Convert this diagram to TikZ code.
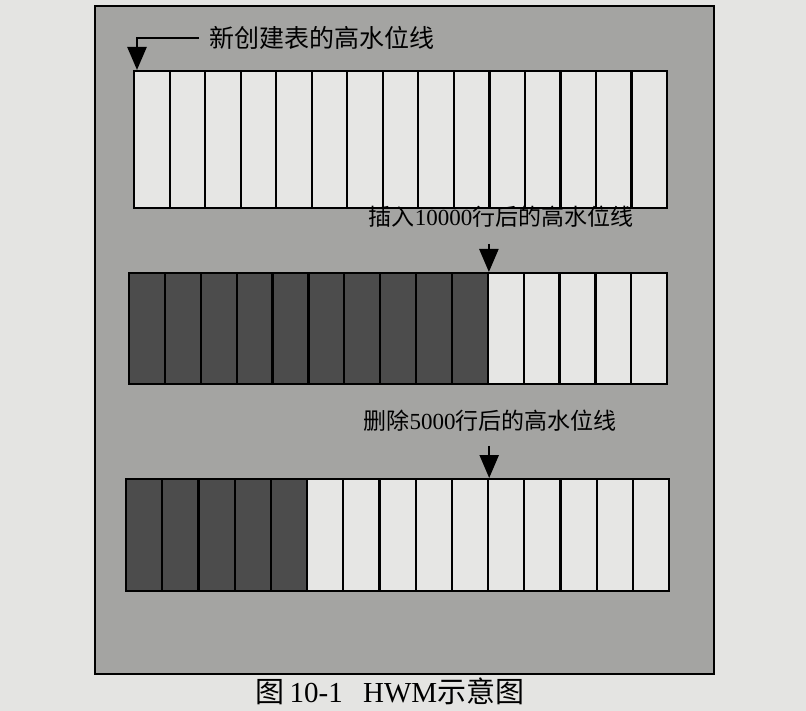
\documentclass[tikz,border=0pt]{standalone}
\usepackage{fontspec}
\setmainfont{Liberation Serif}
\newfontfamily\cjk{Noto Sans CJK SC}
\usetikzlibrary{arrows.meta}
\definecolor{pagebg}{HTML}{E4E4E2}
\definecolor{panel}{HTML}{A4A4A2}
\definecolor{lightcell}{HTML}{E6E6E4}
\definecolor{darkcell}{HTML}{4C4C4C}
\begin{document}
\begin{tikzpicture}[x=1pt,y=-1pt,
  cell/.style={draw=black, line width=2.2pt, inner sep=0pt, anchor=north west},
  lbl/.style={inner sep=2pt, font=\fontsize{23}{27}\selectfont},
  arr/.style={draw=black, line width=2.4pt, -{Triangle[width=19pt,length=23pt]}},
  panelbox/.style={draw=black, line width=2.5pt, fill=panel}
]
\fill[pagebg] (0,0) rectangle (806,711);
\useasboundingbox (0,0) rectangle (806,711);
\path[panelbox] (95,6) rectangle (714,674);

% row 1: 15 empty cells
\foreach \i in {1,...,15}{
  \node[cell, fill=lightcell, minimum width=35.53pt, minimum height=137pt]
    (r1c\i) at ({133+(\i-1)*35.53},70) {};
}
% row 2: 10 used cells
\foreach \i in {1,...,15}{
  \ifnum\i<11 \def\fc{darkcell}\else\def\fc{lightcell}\fi
  \node[cell, fill=\fc, minimum width=35.87pt, minimum height=111pt]
    (r2c\i) at ({128+(\i-1)*35.87},272) {};
}
% row 3: 5 used cells
\foreach \i in {1,...,15}{
  \ifnum\i<6 \def\fc{darkcell}\else\def\fc{lightcell}\fi
  \node[cell, fill=\fc, minimum width=36.2pt, minimum height=112pt]
    (r3c\i) at ({125+(\i-1)*36.2},478) {};
}

% labels
\node[lbl, anchor=west, font=\fontsize{25}{29}\selectfont] (l1) at (207,38) {\cjk 新创建表的高水位线};
\node[lbl] (l2) at (501,217) {{\cjk 插入}10000{\cjk 行后的高水位线}};
\node[lbl] (l3) at (490,421) {{\cjk 删除}5000{\cjk 行后的高水位线}};

% arrows
\draw[arr] ([xshift=-8pt]l1.west) -| ([xshift=4pt]r1c1.north west);
\coordinate (s2) at (r2c10.north east |- l2.south);
\draw[arr] ([yshift=-14pt]s2) -- (r2c10.north east);
\coordinate (s3) at (r3c10.north east |- l3.south);
\draw[arr] ([yshift=-12pt]s3) -- (r3c10.north east);

% caption
\node[font=\fontsize{29}{33}\selectfont] (cap) at (390,691)
  {{\cjk 图}\,10-1\hspace{0.7em}HWM{\cjk 示意图}};
\end{tikzpicture}
\end{document}
